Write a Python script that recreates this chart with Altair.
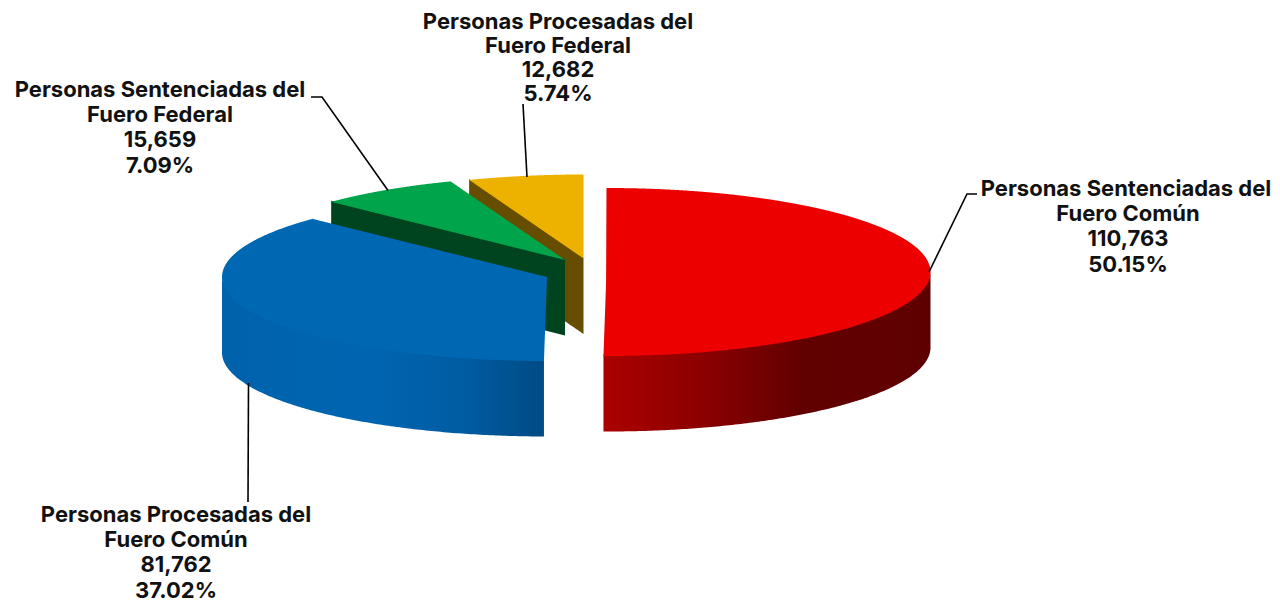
import numpy as np
import pandas as pd
import altair as alt

# --- data
names = ["Personas Sentenciadas del Fuero Común", "Personas Procesadas del Fuero Común",
         "Personas Sentenciadas del Fuero Federal", "Personas Procesadas del Fuero Federal"]
values = [110763, 81762, 15659, 12682]
value_labels = ["110,763", "81,762", "15,659", "12,682"]
pct_labels = ["50.15%", "37.02%", "7.09%", "5.74%"]
line1 = ["Personas Sentenciadas del", "Personas Procesadas del", "Personas Sentenciadas del", "Personas Procesadas del"]
line2 = ["Fuero Común", "Fuero Común", "Fuero Federal", "Fuero Federal"]

# --- layout and style
W, H = 1264, 595
CX = [606.5, 547.0, 565.0, 583.5]
CY = [272.0, 277.0, 260.0, 258.5]
RXS = [324.0, 325.0, 324.0, 324.0]
RY, DEPTH = 84.0, 75.5
TOP = ["#EC0000", "#0068B3", "#00A44A", "#EDB200"]
CUT = [None, None, "#00441F", "#664D00"]
LABEL_X = [1128, 176, 160, 558]
LINE1_DX = [-2, 0, 0, 0]
LABEL_Y = [189, 515, 90, 22]
LINE_STEP = [25.2, 25.2, 25.2, 24.0]
FONT = "Inter"
FSIZE = 22
LEADERS = [[(977, 194), (967, 194), (929, 272)],
           [(248.5, 383), (248, 502)],
           [(311, 97), (322, 97), (388, 190.5)],
           [(523, 104), (527, 177)]]

frac = np.array(values) / sum(values)
ends = np.cumsum(frac) * 2 * np.pi
starts = np.r_[0, ends[:-1]]


def rim(i, a, b, n=160):
    t = np.linspace(a, b, n)
    return CX[i] + RXS[i] * np.sin(t), CY[i] - RY * np.cos(t)


def envelope(px, py):
    """x-wise upper and lower edge of a convex outline."""
    px, py = np.asarray(px), np.asarray(py)
    xs = np.unique(np.r_[px, np.linspace(px.min(), px.max(), 500)])
    cx, cy = np.r_[px, px[0]], np.r_[py, py[0]]
    lo, hi = np.full(xs.shape, np.inf), np.full(xs.shape, -np.inf)
    for x0, y0, x1, y1 in zip(cx[:-1], cy[:-1], cx[1:], cy[1:]):
        a, b = min(x0, x1), max(x0, x1)
        m = (xs >= a) & (xs <= b)
        if x1 == x0:
            lo[m] = np.minimum(lo[m], min(y0, y1))
            hi[m] = np.maximum(hi[m], max(y0, y1))
        else:
            ys = y0 + (xs[m] - x0) * (y1 - y0) / (x1 - x0)
            lo[m] = np.minimum(lo[m], ys)
            hi[m] = np.maximum(hi[m], ys)
    return pd.DataFrame({"x": xs, "y": lo, "y2": hi}).round(2)


X = alt.X("x:Q", scale=alt.Scale(domain=[8, 8 + W], nice=False, zero=False), axis=None)
Y = alt.Y("y:Q", scale=alt.Scale(domain=[8 + H, 8], nice=False, zero=False), axis=None)


def area(df, fill):
    return alt.Chart(df).mark_area(fill=fill, opacity=1, interpolate="linear").encode(
        x=X, y=Y, y2=alt.Y2("y2:Q"))


def grad(stops):
    return alt.LinearGradient(gradient="linear", x1=0, x2=1, y1=0, y2=0,
                              stops=[alt.GradientStop(offset=o, color=c) for o, c in stops])


def face(i):
    rx, ry = rim(i, starts[i], ends[i])
    return area(envelope(np.r_[CX[i], rx], np.r_[CY[i], ry]), TOP[i])


def cut_wall(i):
    # the slice's straight edge facing the viewer, extruded downward
    ex, ey = CX[i] + RXS[i] * np.sin(starts[i]), CY[i] - RY * np.cos(starts[i])
    xs = np.linspace(ex, CX[i], 60)
    ys = ey + (xs - ex) * (CY[i] - ey) / (CX[i] - ex)
    return area(pd.DataFrame({"x": xs, "y": ys - 1, "y2": ys + DEPTH}).round(2), CUT[i])


def outer_wall(i, a, b, stops):
    rx, ry = rim(i, a, b)
    df = pd.DataFrame({"x": rx, "y": ry - 1.5, "y2": ry + DEPTH}).sort_values("x").round(2)
    return area(df, grad(stops))


layers = [
    cut_wall(3), face(3),
    cut_wall(2), face(2),
    outer_wall(1, starts[1], 1.5 * np.pi,
               [(0, "#0062AB"), (0.45, "#0065B1"), (0.75, "#005CA2"), (1, "#004B85")]),
    face(1),
    outer_wall(0, 0.5 * np.pi, ends[0],
               [(0, "#AB0000"), (0.28, "#8E0000"), (0.6, "#620000"), (1, "#5F0000")]),
    face(0),
]

for pts in LEADERS:
    ld = pd.DataFrame(pts, columns=["x", "y"]).assign(k=lambda d: range(len(d)))
    layers.append(alt.Chart(ld).mark_line(color="black", strokeWidth=1.6, interpolate="linear").encode(
        x=X, y=Y, order="k:Q"))

rows = []
for i in range(4):
    for j, s in enumerate([line1[i], line2[i], value_labels[i], pct_labels[i]]):
        rows.append({"x": LABEL_X[i] + (LINE1_DX[i] if j == 0 else 0),
                     "y": LABEL_Y[i] + j * LINE_STEP[i], "t": s})
layers.append(alt.Chart(pd.DataFrame(rows)).mark_text(
    font=FONT, fontSize=FSIZE, fontWeight=700, color="#111111", align="center", baseline="middle"
).encode(x=X, y=Y, text="t:N"))

chart = alt.layer(*layers).properties(
    width=W, height=H, padding=0,
    autosize=alt.AutoSizeParams(type="none"),
    background="white",
).configure_view(stroke=None)
chart.save("out.html", embed_options={"renderer": "svg", "actions": False})
